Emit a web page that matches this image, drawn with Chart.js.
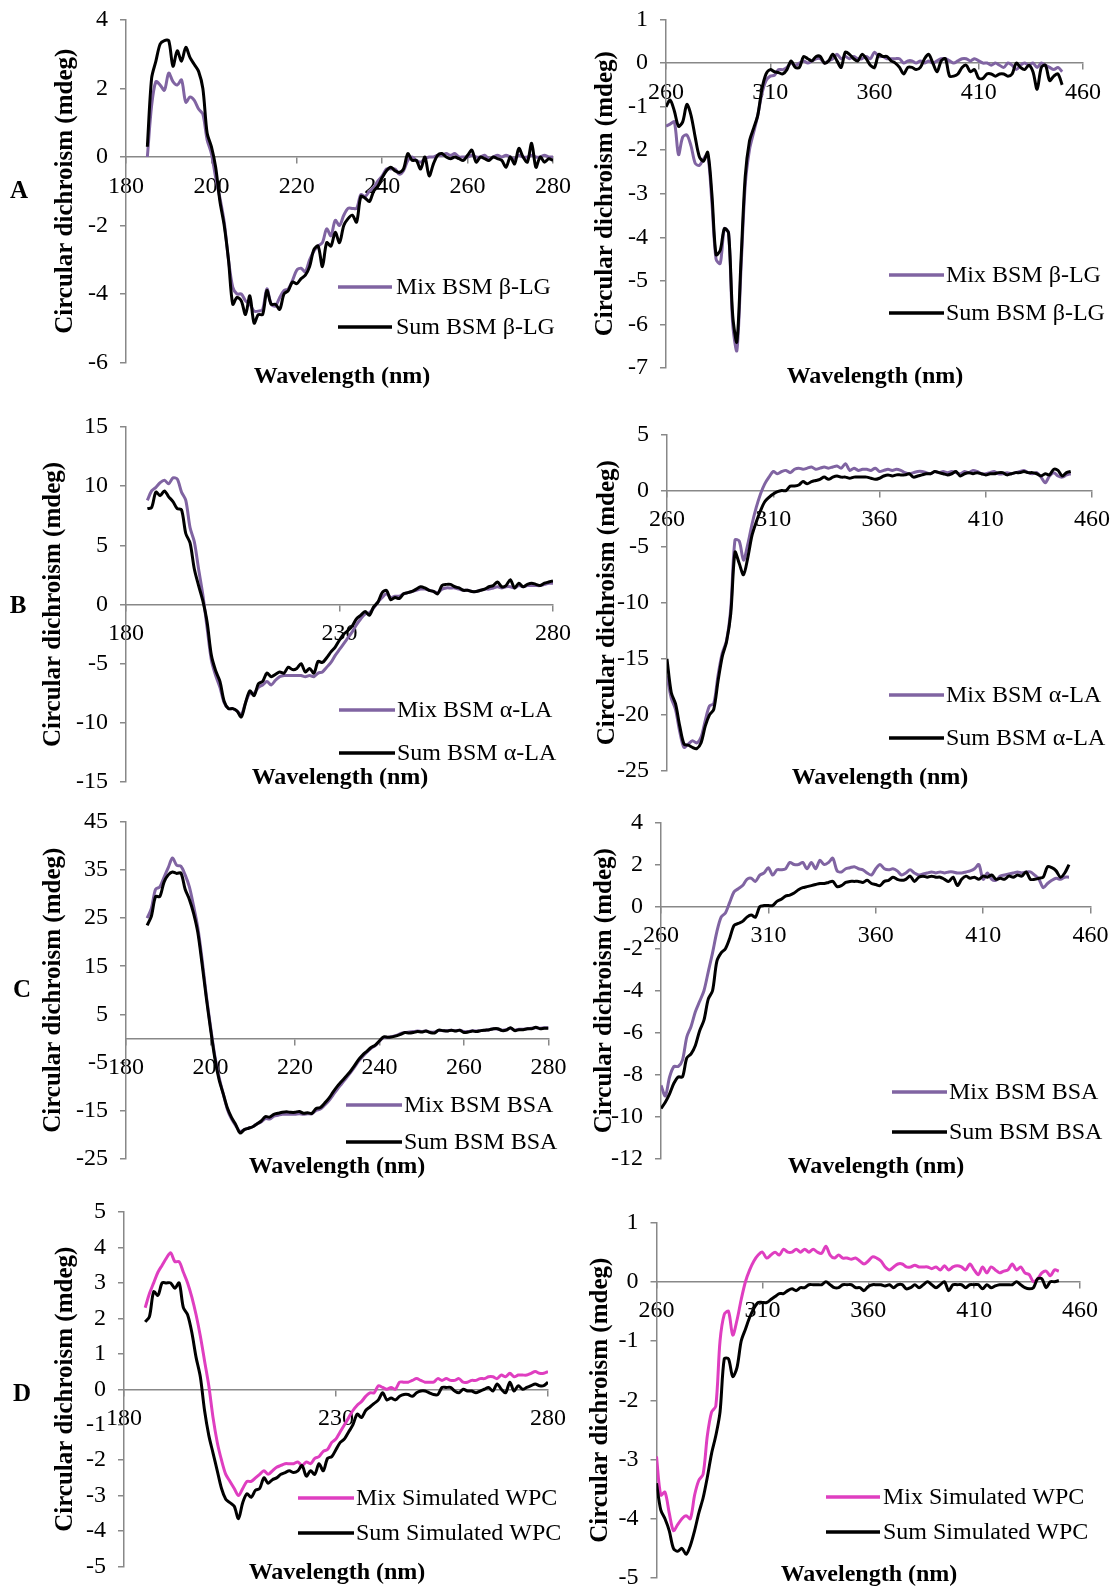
<!DOCTYPE html>
<html><head><meta charset="utf-8">
<script src="https://cdn.jsdelivr.net/npm/chart.js@4.4.1/dist/chart.umd.min.js"></script>
<style>
html,body{margin:0;padding:0;background:#fff;}
#page{position:relative;width:1117px;height:1587px;overflow:hidden;background:#fff;}
#page canvas{position:absolute;}
.lab{position:absolute;font:bold 25px 'Liberation Serif','Times New Roman',serif;color:#000;transform:translate(-50%,-50%);}
</style></head>
<body><div id="page"></div>
<script>
// ---------- sampling grids (nm) ----------
function range(a, b, s) { const r = []; for (let v = a; v <= b; v += s) r.push(v); return r; }
const wlFar = range(185, 280, 1);   // far-UV, 1 nm
const wlNear = range(260, 450, 2);  // near-UV, 2 nm

// ---------- series labels ----------
const labelsA = ['Mix BSM β-LG', 'Sum BSM β-LG'];
const labelsB = ['Mix BSM α-LA', 'Sum BSM α-LA'];
const labelsC = ['Mix BSM BSA', 'Sum BSM BSA'];
const labelsD = ['Mix Simulated WPC', 'Sum Simulated WPC'];
const panelLetters = ['A', 'B', 'C', 'D'];
const xTitleText = 'Wavelength (nm)';
const yTitleText = 'Circular dichroism (mdeg)';

// ---------- axis ticks: [min, max, step] ----------
const xTicksFar = [[180, 280, 20], [180, 280, 50], [180, 280, 20], [180, 280, 50]];
const xTicksNear = [260, 460, 50];
const yTicksFar = [[-6, 4, 2], [-15, 15, 5], [-25, 45, 10], [-5, 5, 1]];
const yTicksNear = [[-7, 1, 1], [-25, 5, 5], [-12, 4, 2], [-5, 1, 1]];

// ---------- A : BSM + beta-lactoglobulin ----------
const aFarMix = [
 0.0, 1.5, 2.2, 2.1, 1.95, 2.45, 2.2, 2.1, 2.25, 1.6,
 1.75, 1.65, 1.4, 1.25, 0.5, 0.1, -0.6, -1.2, -1.9, -3.0,
 -3.8, -4.0, -4.0, -4.2, -4.3, -4.5, -4.5, -4.45, -3.85, -4.3,
 -4.35, -4.1, -3.9, -3.85, -3.6, -3.3, -3.25, -3.35, -3.0, -2.75,
 -2.6, -2.5, -2.1, -2.3, -1.85, -2.0, -1.7, -1.5, -1.5, -1.5,
 -1.1, -1.15, -1.0, -0.9, -0.7, -0.55, -0.35, -0.35, -0.35, -0.5,
 -0.4, -0.1, 0.0, -0.1, -0.15, -0.05, 0.0, 0.0, 0.05, 0.05,
 0.1, 0.05, 0.1, 0.0, 0.0, 0.0, 0.05, 0.0, 0.0, 0.05,
 -0.05, 0.0, 0.05, 0.0, 0.05, 0.0, -0.05, 0.05, 0.0, 0.0,
 0.05, 0.0, 0.0, 0.05, 0.0, 0.0];
const aFarSum = [
 0.3, 2.3, 2.8, 3.3, 3.4, 3.4, 2.65, 3.1, 2.8, 3.2,
 2.9, 2.7, 2.5, 2.0, 0.7, 0.3, -0.3, -1.3, -2.0, -3.0,
 -4.3, -4.1, -4.2, -4.6, -4.05, -4.85, -4.6, -4.6, -3.9, -4.3,
 -4.3, -4.45, -4.0, -3.9, -3.65, -3.7, -3.55, -3.45, -3.2, -2.7,
 -2.6, -3.2, -2.5, -2.6, -2.2, -2.5, -2.0, -1.8, -1.7, -1.9,
 -1.15, -1.2, -1.3, -1.0, -0.85, -0.6, -0.4, -0.3, -0.4, -0.45,
 -0.35, 0.1, -0.1, -0.1, -0.35, 0.0, -0.55, -0.2, 0.05, 0.1,
 0.0, -0.05, 0.0, -0.05, -0.1, 0.05, 0.2, -0.15, 0.0, -0.05,
 -0.1, 0.0, -0.05, -0.1, -0.3, 0.0, -0.2, 0.25, 0.0, -0.15,
 0.4, -0.3, 0.0, -0.15, -0.05, -0.1];
const aNearMix = [
 -1.45, -1.4, -1.35, -2.1, -1.7, -1.65, -1.9, -2.3, -2.35, -2.2,
 -2.1, -3.2, -4.5, -4.6, -3.8, -3.9, -6.0, -6.6, -4.7, -2.8,
 -2.0, -1.6, -1.2, -0.7, -0.4, -0.3, -0.28, -0.15, -0.15, -0.1,
 0.0, -0.05, 0.0, 0.05, 0.0, 0.05, 0.1, 0.1, 0.0, 0.05,
 0.1, 0.2, 0.1, 0.15, 0.1, 0.15, 0.1, 0.1, 0.15, 0.1,
 0.25, 0.15, 0.15, 0.1, 0.1, 0.1, 0.1, 0.0, 0.05, 0.05,
 0.0, 0.05, 0.0, 0.05, 0.0, 0.05, 0.1, 0.1, 0.05, 0.0,
 0.05, 0.1, 0.1, 0.05, 0.1, 0.05, 0.0, 0.0, -0.05, 0.0,
 -0.05, -0.1, 0.0, -0.05, -0.15, -0.05, 0.0, -0.05, 0.0, -0.1,
 0.0, -0.05, -0.1, -0.15, -0.1, -0.2];
const aNearSum = [
 -1.0, -0.85, -1.1, -1.45, -1.35, -0.95, -1.2, -1.7, -2.15, -2.25,
 -2.05, -3.0, -4.4, -4.3, -3.8, -3.9, -5.8, -6.4, -4.5, -2.6,
 -1.8, -1.5, -1.2, -0.6, -0.25, -0.15, -0.2, -0.22, -0.25, -0.15,
 0.05, -0.1, -0.1, 0.15, 0.1, 0.05, 0.15, 0.15, 0.0, 0.05,
 0.2, 0.05, -0.1, 0.25, 0.2, 0.1, 0.05, 0.2, 0.1, -0.05,
 -0.1, 0.2, 0.15, 0.15, 0.05, 0.0, -0.1, -0.25, -0.1, -0.1,
 -0.15, -0.1, 0.1, 0.2, 0.0, -0.2, 0.05, 0.1, -0.3, -0.3,
 -0.25, -0.1, -0.05, -0.2, -0.15, -0.35, -0.35, -0.25, -0.25, -0.3,
 -0.25, -0.25, -0.3, -0.25, 0.0, -0.1, -0.15, -0.05, -0.2, -0.6,
 -0.1, -0.05, -0.4, -0.3, -0.25, -0.5];

// ---------- B : BSM + alpha-lactalbumin ----------
const bFarMix = [
 8.8, 9.6, 9.9, 10.3, 10.5, 10.2, 10.7, 10.6, 9.5, 8.8,
 6.5, 5.3, 3.0, 0.8, -2.0, -4.7, -6.0, -7.0, -8.3, -8.8,
 -8.8, -9.0, -9.3, -8.3, -7.5, -7.5, -7.0, -6.8, -6.5, -6.8,
 -6.4, -6.1, -6.0, -6.0, -6.0, -6.0, -6.0, -6.1, -6.0, -6.1,
 -5.8, -5.7, -5.3, -4.9, -4.3, -3.8, -3.3, -2.8, -2.3, -1.7,
 -1.2, -0.8, -0.7, -0.3, 0.2, 0.6, 0.9, 0.6, 0.7, 0.7,
 0.9, 1.0, 1.1, 1.2, 1.3, 1.3, 1.2, 1.1, 1.0, 1.3,
 1.4, 1.4, 1.4, 1.3, 1.2, 1.2, 1.1, 1.1, 1.2, 1.3,
 1.3, 1.4, 1.5, 1.4, 1.5, 1.5, 1.4, 1.6, 1.5, 1.6,
 1.6, 1.6, 1.6, 1.7, 1.8, 1.8];
const bFarSum = [
 8.1, 8.2, 9.5, 9.2, 9.6, 9.1, 8.7, 8.1, 8.0, 6.0,
 5.2, 3.0, 1.6, 0.3, -1.5, -4.3, -5.6, -6.5, -8.2, -8.8,
 -8.8, -9.0, -9.5, -8.3, -7.3, -7.7, -6.7, -6.5, -5.8, -6.1,
 -5.9, -5.7, -5.8, -5.3, -5.5, -5.4, -5.0, -5.7, -5.4, -5.8,
 -4.8, -4.9, -4.5, -4.0, -3.6, -3.0, -2.5, -2.2, -1.8, -1.2,
 -0.9, -0.6, -0.9, -0.2, 0.2, 1.0, 1.2, 0.4, 0.6, 0.5,
 0.9, 1.0, 1.1, 1.3, 1.5, 1.4, 1.2, 1.1, 0.9, 1.6,
 1.7, 1.7, 1.5, 1.4, 1.2, 1.2, 1.1, 1.1, 1.2, 1.3,
 1.5, 1.6, 1.9, 1.5, 1.6, 2.1, 1.4, 1.8, 1.5, 1.7,
 1.8, 1.7, 1.6, 1.8, 1.9, 2.0];
const bNearMix = [
 -16.5, -18.5, -19.5, -21.5, -22.9, -22.6, -22.3, -22.5, -22.0, -20.5,
 -19.2, -19.0, -16.5, -14.5, -13.4, -10.5, -4.4, -4.5, -6.2, -4.8,
 -3.0, -1.5, -0.3, 0.6, 1.2, 1.7, 1.5, 1.7, 1.8, 1.6,
 1.9, 2.0, 1.9, 2.0, 2.1, 1.9, 2.0, 2.1, 2.0, 2.1,
 2.2, 2.0, 2.4, 1.8, 2.0, 1.8, 1.9, 1.9, 1.8, 2.0,
 1.7, 1.8, 1.9, 1.8, 1.9, 1.8, 1.6, 1.5, 1.6, 1.7,
 1.7, 1.6, 1.5, 1.7, 1.6, 1.7, 1.6, 1.7, 1.6, 1.5,
 1.7, 1.6, 1.8, 1.7, 1.5, 1.5, 1.6, 1.7, 1.5, 1.5,
 1.6, 1.5, 1.6, 1.7, 1.8, 1.6, 1.5, 1.6, 1.2, 0.7,
 1.3, 1.6, 1.3, 1.2, 1.4, 1.5];
const bNearSum = [
 -15.0, -18.0, -19.0, -21.0, -22.6, -22.7, -22.9, -23.0, -22.5, -21.0,
 -20.0, -19.5, -17.0, -14.8, -13.5, -11.0, -5.5, -6.5, -7.5, -6.0,
 -4.0, -2.8, -1.8, -1.0, -0.6, -0.3, -0.1, 0.0, 0.0, 0.4,
 0.4, 0.5, 0.8, 0.6, 0.8, 0.9, 1.0, 1.2, 1.0, 1.2,
 1.3, 1.2, 1.2, 1.1, 1.2, 1.2, 1.2, 1.2, 1.1, 1.0,
 1.1, 1.3, 1.4, 1.3, 1.4, 1.4, 1.4, 1.5, 1.2, 1.3,
 1.4, 1.5, 1.5, 1.7, 1.6, 1.5, 1.4, 1.5, 1.7, 1.3,
 1.5, 1.6, 1.5, 1.6, 1.5, 1.4, 1.5, 1.5, 1.6, 1.6,
 1.4, 1.5, 1.6, 1.6, 1.7, 1.6, 1.6, 1.5, 1.3, 1.5,
 1.4, 1.9, 1.8, 1.3, 1.6, 1.7];

// ---------- C : BSM + bovine serum albumin ----------
const cFarMix = [
 25.0, 27.0, 31.0, 31.5, 33.5, 35.5, 37.5, 36.0, 35.8, 34.0,
 31.5, 27.5, 23.0, 16.5, 9.0, 2.5, -3.5, -8.0, -11.5, -14.8,
 -16.8, -18.2, -19.4, -19.0, -18.7, -18.4, -17.8, -17.4, -16.7, -16.8,
 -16.2, -16.0, -15.8, -15.8, -15.8, -15.8, -15.7, -15.8, -15.7, -15.7,
 -15.0, -14.7, -13.9, -13.0, -11.8, -10.6, -9.5, -8.4, -7.3, -6.1,
 -4.8, -3.8, -2.9, -2.1, -1.5, -0.6, 0.2, 0.2, 0.4, 0.6,
 1.0, 1.2, 1.3, 1.4, 1.5, 1.4, 1.5, 1.3, 1.3, 1.6,
 1.6, 1.6, 1.7, 1.6, 1.7, 1.4, 1.4, 1.6, 1.5, 1.6,
 1.7, 1.8, 2.0, 1.9, 1.7, 1.8, 2.1, 1.7, 1.9, 1.9,
 2.0, 2.1, 2.2, 2.1, 2.2, 2.2];
const cFarSum = [
 23.5, 25.4, 29.5, 29.5, 32.5, 34.0, 34.6, 34.3, 34.4, 31.0,
 28.9, 26.0, 22.0, 15.5, 8.5, 2.0, -4.0, -8.5, -11.5, -14.5,
 -16.5, -18.0, -19.7, -19.0, -18.7, -18.4, -17.8, -17.2, -16.3, -16.4,
 -15.8, -15.6, -15.4, -15.3, -15.4, -15.4, -15.2, -15.6, -15.5, -15.6,
 -14.6, -14.4, -13.5, -12.5, -11.2, -10.0, -9.0, -8.0, -7.0, -5.8,
 -4.5, -3.5, -2.7, -1.9, -1.4, -0.5, 0.3, 0.2, 0.3, 0.5,
 0.8, 1.2, 1.1, 1.2, 1.4, 1.3, 1.5, 1.2, 1.1, 1.7,
 1.6, 1.5, 1.7, 1.5, 1.7, 1.2, 1.3, 1.5, 1.4, 1.6,
 1.7, 1.8, 2.0, 2.0, 1.6, 1.7, 2.2, 1.6, 1.8, 1.8,
 2.0, 2.0, 2.3, 2.0, 2.1, 2.1];
const cNearMix = [
 -8.5, -9.0, -8.1, -7.6, -7.6, -7.3, -6.2, -5.7, -5.0, -4.5,
 -4.0, -3.1, -2.2, -1.2, -0.5, -0.3, 0.2, 0.7, 0.85, 1.0,
 1.3, 1.35, 1.2, 1.5, 1.6, 1.85, 1.5, 1.75, 1.75, 1.8,
 2.1, 2.0, 2.0, 2.1, 1.8, 2.1, 1.8, 2.2, 2.0, 2.1,
 2.3, 1.7, 1.65, 1.8, 1.85, 1.9, 1.8, 1.75, 1.6, 1.5,
 1.8, 2.0, 1.8, 1.75, 1.8, 1.7, 1.5, 1.6, 1.75, 1.6,
 1.5, 1.55, 1.6, 1.65, 1.6, 1.65, 1.6, 1.65, 1.65, 1.6,
 1.6, 1.65, 1.7, 1.8, 2.0, 1.3, 1.6, 1.3, 1.25, 1.45,
 1.5, 1.55, 1.6, 1.65, 1.6, 1.65, 1.65, 1.5, 1.3, 0.9,
 1.1, 1.25, 1.35, 1.3, 1.4, 1.4];
const cNearSum = [
 -9.6, -9.3, -8.9, -8.4, -8.1, -8.1, -7.2, -7.0, -6.6, -5.9,
 -5.4, -4.4, -4.0, -2.6, -2.2, -2.0, -1.5, -0.9, -0.8, -0.7,
 -0.5, -0.4, -0.5, 0.0, 0.05, 0.05, 0.05, 0.25, 0.35, 0.5,
 0.55, 0.65, 0.8, 0.9, 0.95, 1.0, 1.05, 1.1, 1.1, 1.15,
 1.2, 0.95, 1.0, 1.15, 1.2, 1.2, 1.2, 1.15, 1.25, 1.1,
 1.05, 1.0, 1.2, 1.25, 1.4, 1.3, 1.25, 1.3, 1.45, 1.2,
 1.4, 1.45, 1.4, 1.45, 1.4, 1.4, 1.3, 1.2, 1.4, 1.0,
 1.3, 1.45, 1.35, 1.4, 1.3, 1.45, 1.4, 1.5, 1.3, 1.35,
 1.3, 1.45, 1.4, 1.5, 1.45, 1.65, 1.3, 1.3, 1.35, 1.4,
 1.9, 1.85, 1.7, 1.4, 1.6, 2.0];

// ---------- D : BSM + simulated whey protein concentrate ----------
const dFarMix = [
 2.3, 2.7, 3.0, 3.3, 3.5, 3.7, 3.85, 3.6, 3.6, 3.3,
 3.0, 2.6, 2.1, 1.5, 0.8, 0.1, -0.8, -1.5, -2.0, -2.4,
 -2.6, -2.8, -3.0, -2.8, -2.6, -2.6, -2.5, -2.4, -2.3, -2.4,
 -2.3, -2.2, -2.15, -2.1, -2.1, -2.1, -2.05, -2.15, -2.05, -2.1,
 -1.95, -1.9, -1.75, -1.7, -1.5, -1.4, -1.2, -1.0, -0.8, -0.6,
 -0.45, -0.35, -0.2, -0.1, -0.1, 0.1, 0.05, 0.0, 0.05, 0.0,
 0.2, 0.2, 0.2, 0.25, 0.3, 0.25, 0.2, 0.2, 0.2, 0.3,
 0.25, 0.3, 0.25, 0.25, 0.3, 0.2, 0.2, 0.25, 0.25, 0.3,
 0.3, 0.35, 0.35, 0.3, 0.4, 0.35, 0.45, 0.35, 0.4, 0.4,
 0.4, 0.45, 0.5, 0.45, 0.45, 0.5];
const dFarSum = [
 1.9, 2.05, 2.75, 2.65, 3.0, 3.0, 3.0, 2.85, 3.0, 2.3,
 2.1, 1.6, 0.9, 0.35, -0.6, -1.3, -1.8, -2.3, -2.8, -3.1,
 -3.2, -3.3, -3.65, -3.2, -2.95, -3.05, -2.85, -2.8, -2.5, -2.65,
 -2.55, -2.5, -2.4, -2.35, -2.3, -2.35, -2.3, -2.15, -2.45, -2.3,
 -2.4, -2.1, -2.3, -1.95, -1.9, -1.7, -1.5, -1.4, -1.2, -1.0,
 -0.7, -0.8, -0.6, -0.5, -0.4, -0.3, -0.1, -0.3, -0.25, -0.3,
 -0.2, -0.15, -0.15, -0.2, -0.1, -0.05, -0.05, -0.1, -0.15, -0.15,
 0.05, 0.05, 0.05, -0.05, -0.1, 0.0, -0.05, -0.05, -0.1, -0.05,
 0.0, 0.05, -0.05, 0.15, 0.0, -0.1, 0.2, -0.05, 0.1, 0.0,
 0.05, 0.1, 0.15, 0.1, 0.1, 0.2];
const dNearMix = [
 -2.95, -3.6, -3.55, -3.9, -4.2, -4.1, -4.0, -3.95, -4.0, -3.6,
 -3.35, -3.25, -2.6, -2.2, -2.1, -1.0, -0.55, -0.5, -0.9, -0.65,
 -0.3, 0.0, 0.2, 0.35, 0.45, 0.5, 0.4, 0.45, 0.5, 0.45,
 0.55, 0.5, 0.5, 0.55, 0.5, 0.55, 0.5, 0.55, 0.5, 0.48,
 0.6, 0.45, 0.4, 0.45, 0.4, 0.4, 0.38, 0.4, 0.35, 0.3,
 0.35, 0.42, 0.4, 0.35, 0.25, 0.2, 0.25, 0.3, 0.3, 0.25,
 0.25, 0.28, 0.25, 0.25, 0.25, 0.22, 0.25, 0.2, 0.27, 0.2,
 0.25, 0.27, 0.25, 0.2, 0.3, 0.2, 0.12, 0.25, 0.15, 0.25,
 0.2, 0.15, 0.18, 0.2, 0.3, 0.2, 0.25, 0.15, 0.12, 0.0,
 0.05, 0.15, 0.18, 0.1, 0.2, 0.18];
const dNearSum = [
 -3.4, -3.85, -4.0, -4.2, -4.5, -4.55, -4.5, -4.6, -4.45, -4.2,
 -3.9, -3.65, -3.3, -2.9, -2.6, -2.2, -1.3, -1.3, -1.6, -1.45,
 -1.0, -0.8, -0.6, -0.45, -0.35, -0.35, -0.35, -0.3, -0.25, -0.2,
 -0.2, -0.15, -0.12, -0.15, -0.1, -0.1, -0.05, -0.05, -0.05, -0.05,
 0.0, -0.05, -0.1, -0.1, -0.05, -0.05, -0.05, -0.1, -0.1, -0.15,
 -0.08, -0.05, -0.05, -0.05, -0.07, -0.05, -0.1, -0.05, -0.05, -0.12,
 -0.1, -0.05, -0.1, -0.05, 0.0, -0.05, -0.1, -0.05, 0.0, -0.15,
 -0.05, -0.05, -0.05, -0.1, -0.05, -0.05, -0.05, -0.12, -0.05, -0.1,
 -0.07, -0.05, -0.05, -0.05, -0.05, 0.0, -0.05, -0.1, -0.12, -0.1,
 0.05, 0.05, -0.1, 0.0, 0.0, 0.02];

// ---------- styling / placement (page pixels) ----------
const FONT = "'Liberation Serif','Times New Roman',serif";
const PURPLE = '#8064A2', MAGENTA = '#DF3EC0', BLACK = '#000000', AXIS = '#888888';
const mixColors = [PURPLE, PURPLE, PURPLE, MAGENTA];
// canvas [left, top, width, height], plot area [left, right, top, bottom]
const leftCanvas = [[0, 0, 580, 405], [0, 400, 580, 400], [0, 790, 580, 395], [0, 1180, 580, 407]];
const rightCanvas = [[560, 0, 557, 405], [560, 400, 557, 400], [560, 790, 557, 395], [560, 1180, 557, 407]];
const leftArea = [[126, 553, 20, 362.5], [126, 553, 427, 782], [126, 548.5, 822, 1158.5], [124, 548, 1212, 1566.5]];
const rightArea = [[666, 1083, 19.5, 368], [667, 1092, 434.5, 771], [661, 1090.5, 822.5, 1159], [656.5, 1080, 1222.5, 1578]];
const leftYTitleX = [66, 54, 54, 66];
const rightYTitleX = [606, 608, 605, 601];
const leftXTitle = [[342, 377], [340, 778], [337, 1167], [337, 1573]];
const rightXTitle = [[875, 377], [880, 778], [876, 1167], [869, 1575]];
// legend: [lineStart, lineEnd, textX, yMix, ySum]
const leftLegend = [[338, 392, 396, 287, 327], [339, 395, 397, 710, 753], [346, 402, 404, 1105, 1142], [298, 354, 356, 1498, 1533]];
const rightLegend = [[889, 944, 946, 275, 313], [889, 944, 946, 695, 738], [892, 947, 949, 1092, 1132], [826, 880, 883, 1497, 1532]];
const letterPos = [[19, 190], [18, 605], [22, 989], [22, 1393]];

const farMix = [aFarMix, bFarMix, cFarMix, dFarMix];
const farSum = [aFarSum, bFarSum, cFarSum, dFarSum];
const nearMix = [aNearMix, bNearMix, cNearMix, dNearMix];
const nearSum = [aNearSum, bNearSum, cNearSum, dNearSum];
const panelLabels = [labelsA, labelsB, labelsC, labelsD];

const page = document.getElementById('page');

const decorPlugin = {
  id: 'decor',
  afterDraw(chart, args, o) {
    const ctx = chart.ctx;
    ctx.save();
    ctx.fillStyle = '#000';
    ctx.textBaseline = 'middle';
    ctx.font = 'bold 24px ' + FONT;
    ctx.textAlign = 'center';
    ctx.fillText(o.xTitleText, o.xTitle[0] - o.L, o.xTitle[1] - o.T);
    ctx.font = '24px ' + FONT;
    ctx.textAlign = 'left';
    chart.data.datasets.forEach((ds, i) => {
      const y = o.leg[3 + i] - o.T;
      ctx.strokeStyle = ds.borderColor;
      ctx.lineWidth = 3.5;
      ctx.beginPath();
      ctx.moveTo(o.leg[0] - o.L, y);
      ctx.lineTo(o.leg[1] - o.L, y);
      ctx.stroke();
      ctx.fillText(ds.label, o.leg[2] - o.L, y + 1);
    });
    ctx.restore();
  }
};

function pts(wl, vals) { return wl.map((w, i) => ({ x: w, y: vals[i] })); }

function makePanel(cv, area, xt, yt, wl, mix, sum, labels, mixColor, yTitleX, xTitle, leg) {
  const [L, T, W, H] = cv;
  const [aL, aR, aT, aB] = area;
  const c = document.createElement('canvas');
  c.width = W; c.height = H;
  c.style.left = L + 'px'; c.style.top = T + 'px';
  c.style.width = W + 'px'; c.style.height = H + 'px';
  page.appendChild(c);
  const tickFont = { family: FONT, size: 24 };
  const gridCfg = { display: true, drawOnChartArea: false, drawTicks: true, tickLength: 6, color: AXIS, lineWidth: 1.5 };
  const borderCfg = { display: true, color: AXIS, width: 1.5 };
  new Chart(c, {
    type: 'line',
    data: {
      datasets: [
        { label: labels[0], data: pts(wl, mix), borderColor: mixColor, backgroundColor: mixColor, borderWidth: 3, pointRadius: 0, tension: 0.3, fill: false, order: 1 },
        { label: labels[1], data: pts(wl, sum), borderColor: BLACK, backgroundColor: BLACK, borderWidth: 3, pointRadius: 0, tension: 0.3, fill: false, order: 0 }
      ]
    },
    options: {
      responsive: false, animation: false, devicePixelRatio: 1,
      layout: { padding: { left: 0, top: aT - T, right: (L + W) - aR, bottom: (T + H) - aB } },
      plugins: {
        legend: { display: false }, tooltip: { enabled: false },
        decor: { L, T, xTitle, leg, xTitleText }
      },
      scales: {
        x: {
          type: 'linear', position: { y: 0 }, min: xt[0], max: xt[1],
          ticks: { stepSize: xt[2], autoSkip: false, maxRotation: 0, minRotation: 0, font: tickFont, color: '#000', padding: 9 },
          grid: gridCfg, border: borderCfg,
          afterFit(s) { s.height = 0; s.paddingLeft = 0; s.paddingRight = 0; }
        },
        y: {
          type: 'linear', position: 'left', min: yt[0], max: yt[1],
          ticks: { stepSize: yt[2], autoSkip: false, font: tickFont, color: '#000', padding: 12 },
          grid: gridCfg, border: borderCfg,
          title: { display: true, text: yTitleText, color: '#000', font: { family: FONT, size: 25, weight: 'bold' }, padding: { top: yTitleX - L - 15, bottom: 0 } },
          afterFit(s) { s.width = aL - L; s.paddingTop = 0; s.paddingBottom = 0; }
        }
      }
    },
    plugins: [decorPlugin]
  });
}

for (let i = 0; i < 4; i++) {
  makePanel(leftCanvas[i], leftArea[i], xTicksFar[i], yTicksFar[i], wlFar, farMix[i], farSum[i], panelLabels[i], mixColors[i], leftYTitleX[i], leftXTitle[i], leftLegend[i]);
  makePanel(rightCanvas[i], rightArea[i], xTicksNear, yTicksNear[i], wlNear, nearMix[i], nearSum[i], panelLabels[i], mixColors[i], rightYTitleX[i], rightXTitle[i], rightLegend[i]);
  const d = document.createElement('div');
  d.className = 'lab';
  d.textContent = panelLetters[i];
  d.style.left = letterPos[i][0] + 'px';
  d.style.top = letterPos[i][1] + 'px';
  page.appendChild(d);
}
</script>
</body></html>
